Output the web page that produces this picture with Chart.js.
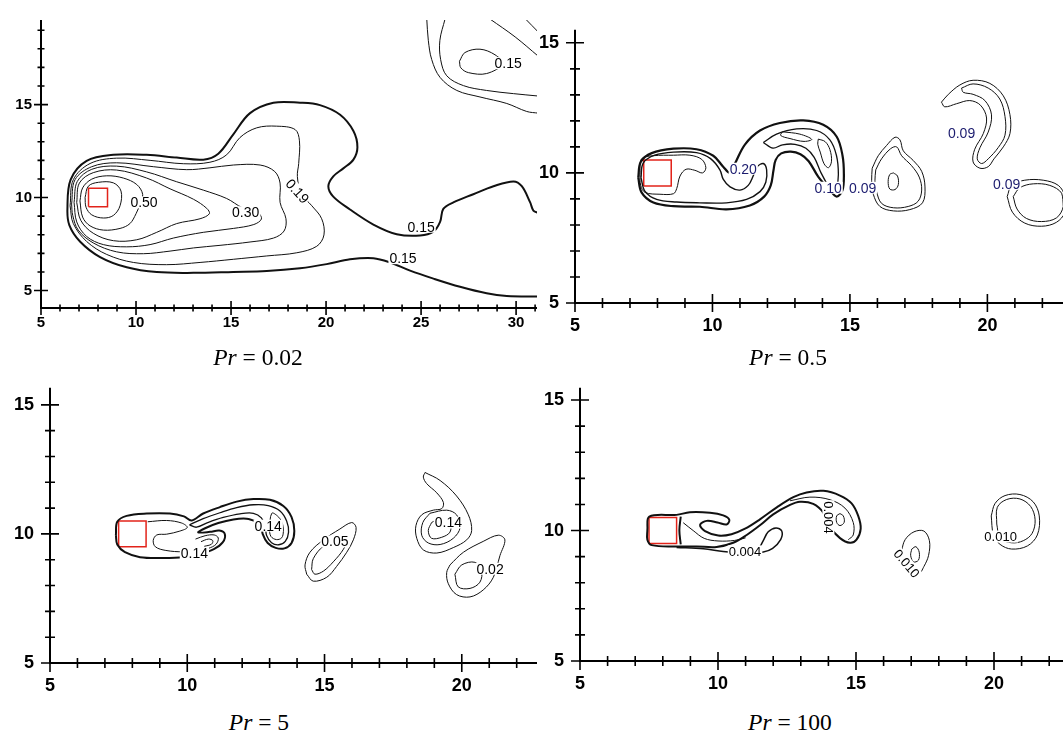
<!DOCTYPE html>
<html>
<head>
<meta charset="utf-8">
<script src="https://cdn.jsdelivr.net/npm/chart.js@4.4.1/dist/chart.umd.min.js"></script>
<style>
html, body { margin: 0; padding: 0; background: #fff; overflow: hidden; width: 1063px; height: 734px; }
canvas { position: absolute; }
.cap { position: absolute; width: 240px; text-align: center; font-family: "Liberation Serif", "Times New Roman", serif; font-size: 23.5px; line-height: 26px; color: #000; }
</style>
</head>
<body>
<canvas id="pr002"></canvas>
<canvas id="pr05"></canvas>
<canvas id="pr5"></canvas>
<canvas id="pr100"></canvas>
<div class="cap" style="left:138px; top:344px;"><i>Pr</i> = 0.02</div>
<div class="cap" style="left:668px; top:344px;"><i>Pr</i> = 0.5</div>
<div class="cap" style="left:139px; top:709px;"><i>Pr</i> = 5</div>
<div class="cap" style="left:670px; top:709px;"><i>Pr</i> = 100</div>
<script>
// ---- tick labels ----
var pr002XTicks = [5, 10, 15, 20, 25, 30];
var pr002YTicks = [5, 10, 15];
var wakeXTicks = [5, 10, 15, 20];
var wakeYTicks = [5, 10, 15];

// cylinder (square) outline
var squareX = [7.5, 8.5, 8.5, 7.5, 7.5];
var squareY = [9.5, 9.5, 10.5, 10.5, 9.5];

// ---- Pr = 0.02 contours [x, y] ----
var pr002Ring1 = [[7.32,10.0],[7.49,10.61],[8.02,10.82],[8.81,10.79],[9.21,10.35],[9.16,9.56],[8.81,9.04],[8.28,8.9],[7.67,9.07],[7.37,9.48],[7.32,10.0]];
var pr002Ring2 = [[7.05,9.82],[7.19,10.52],[7.67,10.99],[8.46,11.17],[9.33,11.05],[10.04,10.7],[10.35,10.17],[10.21,9.65],[10.0,9.13],[9.68,8.6],[9.16,8.34],[8.28,8.25],[7.58,8.48],[7.19,8.95],[7.05,9.82]];
var pr002Ring3 = [[6.88,9.74],[7.02,10.78],[7.75,11.34],[8.98,11.48],[10.56,11.05],[11.79,10.47],[13.02,9.91],[13.72,9.42],[13.86,9.13],[13.37,8.86],[12.14,8.6],[11.09,8.13],[10.04,7.73],[8.81,7.68],[7.75,8.08],[7.09,8.78],[6.88,9.74]];
var pr002Ring4 = [[6.74,9.74],[6.91,10.87],[7.67,11.52],[8.98,11.69],[10.56,11.38],[12.14,10.85],[13.54,10.4],[14.77,9.95],[15.6,9.45],[16.4,9.2],[16.6,8.85],[16.2,8.55],[15.12,8.34],[13.54,8.13],[11.96,7.82],[10.74,7.47],[9.51,7.35],[8.28,7.47],[7.4,7.91],[6.88,8.69],[6.74,9.74]];
var pr002Ring5 = [[6.61,9.65],[6.79,10.96],[7.67,11.66],[8.98,11.87],[10.91,11.66],[12.67,11.5],[13.89,11.6],[15.12,11.75],[16.53,11.75],[17.3,11.4],[17.58,10.78],[17.58,9.74],[17.89,8.86],[17.79,8.2],[17.23,7.82],[16.0,7.61],[14.42,7.43],[13.02,7.29],[11.79,7.12],[10.39,6.98],[8.98,7.08],[7.75,7.56],[6.96,8.25],[6.67,9.04],[6.61,9.65]];
var pr002Ring6 = [[6.53,9.56],[6.7,10.96],[7.58,11.83],[8.98,12.12],[10.74,12.0],[12.49,11.82],[13.89,11.9],[14.77,12.3],[15.47,13.23],[16.35,13.75],[17.4,13.84],[18.37,13.66],[18.6,13.05],[18.56,11.83],[18.49,11.13],[18.7,10.2],[19.25,9.56],[19.77,8.86],[19.89,7.99],[19.51,7.38],[18.46,7.03],[16.88,6.86],[15.12,6.68],[13.37,6.51],[11.61,6.39],[9.86,6.51],[8.46,6.94],[7.4,7.64],[6.7,8.6],[6.53,9.56]];
var pr002Outer = [[31.17,9.18],[30.91,9.3],[30.74,9.74],[30.3,10.61],[29.86,10.87],[28.81,10.61],[27.75,10.18],[26.7,9.74],[26.17,9.39],[26.0,8.69],[25.65,8.17],[24.95,7.96],[23.72,8.03],[22.49,8.55],[21.26,9.36],[20.38,10.05],[20.12,10.61],[20.38,11.14],[20.91,11.57],[21.44,12.04],[21.65,12.71],[21.44,13.58],[20.74,14.45],[19.68,14.97],[18.63,15.1],[17.23,15.1],[16.0,14.54],[15.12,13.4],[14.33,12.36],[13.54,12.04],[12.14,12.15],[10.56,12.3],[8.81,12.3],[7.4,11.97],[6.56,10.96],[6.39,9.39],[6.49,8.52],[7.05,7.64],[8.11,6.8],[9.51,6.25],[11.09,5.99],[13.02,5.95],[15.12,6.0],[16.88,6.05],[18.63,6.2],[20.03,6.42],[21.26,6.68],[22.49,6.74],[23.37,6.51],[24.42,6.07],[25.65,5.64],[27.05,5.2],[28.45,4.85],[29.51,4.71],[31.17,4.68]];
var pr002Eddy = [[27.02,17.33],[27.31,17.8],[28.1,17.98],[28.89,17.68],[29.3,17.2],[28.45,16.67],[27.49,16.72],[27.09,16.98],[27.02,17.33]];
var pr002Arc1 = [[26.26,19.6],[25.99,18.46],[26.03,17.42],[26.35,16.55],[27.23,16.02],[28.45,15.76],[29.86,15.59],[31.17,15.46]];
var pr002Arc2 = [[25.3,19.6],[25.38,18.46],[25.56,17.42],[26.0,16.46],[26.88,15.76],[28.1,15.41],[29.51,15.06],[30.56,14.63],[31.17,14.54]];
var pr002Arc3 = [[28.63,19.6],[29.95,18.64],[31.17,17.6]];
var pr002Arc4 = [[30.5,19.6],[31.17,18.9]];
var pr002LabelText = ['0.50', '0.30', '0.19', '0.15', '0.15', '0.15'];
var pr002LabelX = [10.42, 15.77, 18.49, 25.0, 24.05, 29.58];
var pr002LabelY = [9.74, 9.21, 10.35, 8.43, 6.74, 17.23];

// ---- Pr = 0.5 contours ----
var pr05Outer = [[7.3,9.82],[7.39,10.42],[7.79,10.76],[8.58,10.93],[9.42,10.91],[10.03,10.66],[10.39,10.24],[10.64,10.0],[10.82,10.36],[11.18,11.09],[11.73,11.63],[12.45,11.92],[13.3,12.02],[14.03,11.85],[14.52,11.39],[14.73,10.67],[14.78,9.94],[14.73,9.34],[14.52,9.09],[14.27,9.34],[13.85,9.85],[13.5,10.45],[13.2,10.72],[12.85,10.82],[12.5,10.75],[12.3,10.5],[12.22,10.1],[12.12,9.52],[11.88,9.09],[11.36,8.75],[10.51,8.6],[9.54,8.7],[8.58,8.72],[7.85,8.86],[7.42,9.25],[7.3,9.82]];
var pr05Mid = [[7.4,9.82],[7.48,10.38],[7.9,10.68],[8.58,10.8],[9.42,10.78],[9.93,10.55],[10.27,10.12],[10.39,9.76],[10.64,9.46],[11.0,9.34],[11.3,9.52],[11.48,9.88],[11.63,10.24],[11.85,10.36],[11.97,10.12],[11.94,9.64],[11.73,9.28],[11.24,8.98],[10.51,8.85],[9.54,8.85],[8.7,8.88],[7.97,8.98],[7.54,9.3],[7.4,9.82]];
var pr05Notch = [[7.36,9.94],[7.42,10.54],[7.85,10.66],[8.58,10.68],[9.18,10.68],[9.61,10.52],[9.76,10.2],[9.64,10.0],[9.36,10.1],[9.04,10.14],[8.82,9.88],[8.7,9.4],[8.58,9.2],[8.09,9.18],[7.55,9.25],[7.39,9.52],[7.36,9.94]];
var pr05Arm = [[11.85,11.17],[12.33,11.49],[13.06,11.69],[13.79,11.63],[14.27,11.27],[14.51,10.67],[14.58,9.94],[14.51,9.4],[14.39,9.24],[14.25,9.43],[13.95,10.0],[13.7,10.6],[13.4,10.95],[13.0,11.1],[12.55,11.08],[12.2,10.95],[11.85,11.17]];
var pr05Tongue = [[12.55,11.58],[13.18,11.49],[13.61,11.29],[13.33,11.21],[12.82,11.32],[12.48,11.44],[12.55,11.58]];
var pr05Hook = [[13.85,11.3],[14.1,11.2],[14.27,10.9],[14.33,10.45],[14.22,10.2],[14.06,10.35],[13.92,10.8],[13.83,11.1],[13.85,11.3]];
var pr05Blob1Out = [[15.81,10.18],[16.03,10.66],[16.33,11.05],[16.64,11.37],[16.82,11.27],[16.94,10.85],[17.3,10.48],[17.61,10.06],[17.73,9.46],[17.64,8.85],[17.18,8.59],[16.58,8.54],[16.09,8.71],[15.85,9.18],[15.79,9.7],[15.81,10.18]];
var pr05Blob1In = [[15.94,10.12],[16.15,10.54],[16.48,10.93],[16.7,11.0],[16.88,10.66],[17.24,10.28],[17.52,9.84],[17.61,9.34],[17.48,8.91],[17.12,8.71],[16.58,8.66],[16.15,8.83],[15.97,9.28],[15.91,9.7],[15.94,10.12]];
var pr05Blob1Core = [[16.58,10.0],[16.73,9.88],[16.76,9.55],[16.64,9.36],[16.45,9.38],[16.39,9.67],[16.45,9.94],[16.58,10.0]];
var pr05Blob2Out = [[18.33,12.72],[18.58,13.02],[19.0,13.38],[19.48,13.56],[20.09,13.44],[20.58,12.96],[20.82,12.24],[20.82,11.51],[20.58,11.0],[20.24,10.54],[20.03,10.24],[19.73,10.18],[19.48,10.42],[19.54,10.91],[19.85,11.51],[19.97,12.11],[19.75,12.6],[19.36,12.78],[18.88,12.66],[18.45,12.54],[18.33,12.72]];
var pr05Blob2In = [[19.06,13.26],[19.48,13.42],[20.03,13.26],[20.45,12.84],[20.64,12.17],[20.64,11.45],[20.39,10.97],[20.03,10.54],[19.79,10.36],[19.63,10.54],[19.73,10.97],[20.03,11.57],[20.15,12.23],[19.91,12.78],[19.48,13.02],[19.12,13.1],[19.06,13.26]];
var pr05Blob3Out = [[20.72,9.09],[20.88,9.52],[21.36,9.72],[22.03,9.72],[22.58,9.52],[22.82,9.09],[22.82,8.49],[22.51,8.1],[21.97,7.95],[21.36,8.07],[20.91,8.49],[20.72,9.09]];
var pr05Blob3In = [[20.94,9.09],[21.18,9.43],[21.67,9.58],[22.27,9.52],[22.7,9.22],[22.76,8.71],[22.51,8.27],[21.97,8.13],[21.42,8.25],[21.08,8.61],[20.94,9.09]];
var pr05LabelText = ['0.20', '0.10', '0.09', '0.09', '0.09'];
var pr05LabelX = [11.12, 14.21, 15.46, 19.06, 20.7];
var pr05LabelY = [10.16, 9.43, 9.43, 11.51, 9.58];

// ---- Pr = 5 contours ----
var pr5Outer = [[7.4,9.95],[7.45,10.47],[7.79,10.7],[8.52,10.79],[9.37,10.79],[9.88,10.68],[10.16,10.52],[10.58,10.79],[11.19,11.04],[11.8,11.25],[12.41,11.35],[13.01,11.32],[13.5,11.08],[13.8,10.65],[13.9,10.11],[13.8,9.65],[13.54,9.44],[13.22,9.46],[12.93,9.65],[12.75,9.99],[12.69,10.35],[12.53,10.47],[12.16,10.59],[11.68,10.56],[11.13,10.42],[10.65,10.22],[10.4,10.06],[10.83,10.08],[11.17,10.13],[11.37,9.99],[11.29,9.67],[10.97,9.41],[10.46,9.22],[9.86,9.1],[9.13,9.07],[8.28,9.1],[7.73,9.29],[7.45,9.59],[7.4,9.95]];
var pr5Tail = [[10.08,10.35],[10.58,10.59],[11.19,10.82],[11.8,11.02],[12.41,11.13],[12.95,11.1],[13.38,10.89],[13.62,10.5],[13.69,10.07],[13.57,9.71],[13.33,9.58],[13.07,9.66],[12.89,9.94],[12.84,10.28],[12.7,10.62],[12.41,10.8],[11.92,10.78],[11.31,10.64],[10.77,10.45],[10.34,10.26],[10.08,10.35]];
var pr5Hook = [[12.98,10.2],[13.05,9.9],[13.25,9.78],[13.44,9.85],[13.5,10.1],[13.45,10.45],[13.28,10.7],[13.08,10.8],[12.98,10.2]];
var pr5Body = [[8.56,10.47],[9.25,10.52],[9.8,10.42],[10.0,10.25],[9.73,10.11],[9.25,9.99],[8.89,9.96],[8.76,9.75],[8.84,9.5],[9.22,9.36],[9.86,9.31],[10.34,9.38]];
var pr5Lobe1 = [[10.3,9.8],[10.65,9.93],[10.98,9.96],[11.13,9.84],[11.05,9.6],[10.77,9.44],[10.42,9.37]];
var pr5Lobe2 = [[10.5,9.7],[10.77,9.8],[10.93,9.74],[10.88,9.6],[10.62,9.52]];
var pr5Blob1Out = [[14.35,8.44],[14.29,8.8],[14.47,9.29],[14.96,9.77],[15.56,10.19],[15.99,10.44],[16.15,10.25],[16.05,9.77],[15.81,9.29],[15.44,8.74],[15.08,8.32],[14.59,8.17],[14.35,8.44]];
var pr5Blob1In = [[14.53,8.62],[14.59,9.04],[14.96,9.53],[15.5,9.83],[15.81,9.79],[15.69,9.41],[15.32,8.92],[14.96,8.56],[14.65,8.44],[14.53,8.62]];
var pr5Blob2Out = [[18.66,12.38],[19.21,12.07],[19.81,11.47],[20.24,10.74],[20.36,10.13],[20.18,9.77],[19.69,9.47],[19.09,9.26],[18.6,9.38],[18.36,9.83],[18.33,10.32],[18.54,10.74],[18.96,10.92],[19.27,10.98],[19.33,11.22],[19.09,11.59],[18.72,11.95],[18.6,12.2],[18.66,12.38]];
var pr5Blob2Mid = [[18.84,10.8],[19.45,10.92],[19.81,10.74],[19.94,10.25],[19.69,9.83],[19.21,9.59],[18.78,9.65],[18.54,9.95],[18.58,10.44],[18.84,10.8]];
var pr5Blob2In = [[18.9,10.44],[19.21,10.6],[19.57,10.44],[19.57,10.07],[19.27,9.87],[18.9,9.83],[18.78,10.13],[18.9,10.44]];
var pr5Blob3Out = [[19.57,8.8],[20.06,9.29],[20.78,9.71],[21.33,9.95],[21.57,9.77],[21.39,9.16],[21.15,8.32],[20.78,7.83],[20.3,7.56],[19.81,7.65],[19.51,8.07],[19.45,8.5],[19.57,8.8]];
var pr5Blob3In = [[19.75,8.44],[20.0,8.8],[20.48,8.9],[20.72,8.58],[20.66,8.13],[20.3,7.89],[19.87,7.95],[19.75,8.44]];
var pr5LabelText = ['0.14', '0.14', '0.05', '0.14', '0.02'];
var pr5LabelX = [12.95, 10.26, 15.38, 19.51, 21.03];
var pr5LabelY = [10.32, 9.26, 9.71, 10.44, 8.65];

// ---- Pr = 100 contours ----
var pr100Outer = [[7.44,10.01],[7.51,10.53],[8.5,10.6],[8.98,10.7],[9.71,10.68],[10.19,10.58],[10.41,10.41],[10.31,10.23],[9.98,10.31],[9.59,10.37],[9.35,10.22],[9.53,9.98],[10.01,9.81],[10.49,9.86],[10.98,10.07],[11.52,10.43],[12.13,10.89],[12.73,11.28],[13.21,11.46],[13.82,11.52],[14.42,11.34],[14.84,11.04],[15.08,10.56],[15.17,10.07],[15.02,9.65],[14.78,9.53],[14.42,9.71],[14.06,10.13],[13.82,10.68],[13.45,11.02],[12.97,11.1],[12.61,10.98],[12.0,10.62],[11.52,10.2],[11.04,9.83],[10.55,9.53],[9.95,9.37],[9.23,9.39],[8.5,9.39],[7.6,9.44],[7.44,9.65],[7.44,10.01]];
var pr100Bottom = [[8.5,9.35],[9.47,9.3],[10.19,9.2],[10.92,9.14],[11.64,9.18],[11.98,9.32],[12.27,9.65],[12.31,9.98],[12.1,10.1],[11.82,9.95],[11.64,9.61],[11.52,9.37]];
var pr100Wall = [[8.65,10.53],[8.6,10.01],[8.65,9.47]];
var pr100Inner = [[8.74,10.3],[9.1,10.0],[9.5,9.7],[10.0,9.6],[10.6,9.62],[11.0,9.72]];
var pr100Tail = [[12.61,11.14],[13.33,11.28],[14.06,11.18],[14.6,10.86],[14.9,10.31],[14.9,9.83],[14.72,9.65]];
var pr100Eye = [[14.42,10.65],[14.54,10.56],[14.57,10.31],[14.42,10.19],[14.3,10.31],[14.3,10.56],[14.42,10.65]];
var pr100Blob1Out = [[16.65,9.23],[16.78,9.65],[17.1,9.95],[17.46,9.98],[17.66,9.61],[17.63,9.05],[17.46,8.62],[17.26,8.32],[16.96,8.53],[16.72,8.86],[16.65,9.23]];
var pr100Blob1In = [[17.02,9.29],[17.17,9.38],[17.29,9.17],[17.26,8.86],[17.08,8.8],[16.98,9.05],[17.02,9.29]];
var pr100Blob2Out = [[19.9,10.56],[20.04,11.04],[20.4,11.34],[20.94,11.38],[21.42,11.1],[21.64,10.56],[21.57,9.83],[21.21,9.41],[20.64,9.29],[20.22,9.47],[19.98,9.83],[19.9,10.56]];
var pr100Blob2In = [[20.1,10.25],[20.12,10.89],[20.46,11.19],[20.94,11.21],[21.33,10.92],[21.49,10.41],[21.38,9.89],[21.06,9.61],[20.64,9.53],[20.22,9.71],[20.1,10.25]];
var pr100LabelText = ['0.004', '0.004', '0.010', '0.010'];
var pr100LabelX = [10.98, 14.0, 16.84, 20.24];
var pr100LabelY = [9.2, 10.5, 8.74, 9.77];

Chart.defaults.font.family = '"Liberation Sans", Arial, sans-serif';

// contour line as a scatter dataset
function contour(pts, width) {
   return {
      data: pts.map(function (p) { return { x: p[0], y: p[1] }; }),
      showLine: true,
      borderColor: "#111",
      borderWidth: width || 1,
      pointRadius: 0,
      tension: 0.35,
      fill: false,
   };
}

function square() {
   var pts = squareX.map(function (x, i) { return { x: x, y: squareY[i] }; });
   return { data: pts, showLine: true, borderColor: "#e2231a", borderWidth: 1.5, pointRadius: 0, tension: 0, fill: false };
}

// crossing axis ticks like the Tecplot frame
var axesPlugin = {
   id: "axes",
   afterDraw: function (chart, args, o) {
      var ctx = chart.ctx, a = chart.chartArea, xs = chart.scales.x, ys = chart.scales.y;
      ctx.save();
      ctx.strokeStyle = "#000";
      ctx.lineWidth = 2;
      ctx.beginPath();
      ctx.moveTo(a.left, a.top);
      ctx.lineTo(a.left, a.bottom);
      ctx.lineTo(a.right, a.bottom);
      ctx.stroke();
      ctx.lineWidth = 1.6;
      ctx.beginPath();
      for (var v = Math.ceil(xs.min); v <= xs.max; v++) {
         var px = xs.getPixelForValue(v);
         var len = o.xMajor.indexOf(v) >= 0 ? o.major : o.minor;
         ctx.moveTo(px, a.bottom - len);
         ctx.lineTo(px, a.bottom + len);
      }
      for (var w = Math.ceil(ys.min); w <= ys.max; w++) {
         var py = ys.getPixelForValue(w);
         var len2 = o.yMajor.indexOf(w) >= 0 ? o.major : o.minor;
         ctx.moveTo(a.left - len2, py);
         ctx.lineTo(a.left + len2, py);
      }
      ctx.stroke();
      ctx.restore();
   },
};

// contour level labels, breaking the line under them
var labelPlugin = {
   id: "contourLabels",
   afterDatasetsDraw: function (chart, args, o) {
      var ctx = chart.ctx, xs = chart.scales.x, ys = chart.scales.y;
      ctx.save();
      ctx.font = o.font;
      ctx.textAlign = "center";
      ctx.textBaseline = "middle";
      o.text.forEach(function (t, i) {
         var px = xs.getPixelForValue(o.x[i]), py = ys.getPixelForValue(o.y[i]);
         var w = ctx.measureText(t).width;
         ctx.save();
         ctx.translate(px, py);
         ctx.rotate(((o.rot[i] || 0) * Math.PI) / 180);
         ctx.fillStyle = "#fff";
         ctx.fillRect(-w / 2 - 1, -o.h / 2, w + 2, o.h);
         ctx.fillStyle = o.color;
         ctx.fillText(t, 0, 1);
         ctx.restore();
      });
      ctx.restore();
   },
};

function makePanel(id, area, p) {
   var canvas = document.getElementById(id);
   canvas.width = area.right - area.left + 70;
   canvas.height = area.bottom - area.top + 50;
   canvas.style.left = area.left - 60 + "px";
   canvas.style.top = area.top - 10 + "px";
   var datasets = p.lines.map(function (l) { return contour(l[0], l[1]); });
   datasets.push(square());
   return new Chart(canvas.getContext("2d"), {
      type: "scatter",
      data: { datasets: datasets },
      options: {
         responsive: false,
         animation: false,
         events: [],
         layout: { padding: { top: 10, right: 10, left: 0, bottom: 0 }, autoPadding: false },
         plugins: {
            legend: { display: false },
            tooltip: { enabled: false },
            axes: { xMajor: p.xTicks, yMajor: p.yTicks, major: p.major, minor: p.minor },
            contourLabels: { text: p.labelText, x: p.labelX, y: p.labelY, rot: p.labelRot, font: p.labelFont, color: p.labelColor, h: 12 },
         },
         scales: {
            x: {
               type: "linear",
               min: p.xMin,
               max: p.xMax,
               grid: { display: false, drawTicks: false },
               border: { display: false },
               ticks: { color: "#000", font: { size: p.tickSize, weight: "bold" }, padding: p.xPad, maxRotation: 0, autoSkip: false },
               afterBuildTicks: function (s) { s.ticks = p.xTicks.map(function (v) { return { value: v }; }); },
               afterFit: function (s) { s.height = 40; },
            },
            y: {
               type: "linear",
               min: p.yMin,
               max: p.yMax,
               grid: { display: false, drawTicks: false },
               border: { display: false },
               ticks: { color: "#000", font: { size: p.tickSize, weight: "bold" }, padding: p.yPad, autoSkip: false },
               afterBuildTicks: function (s) { s.ticks = p.yTicks.map(function (v) { return { value: v }; }); },
               afterFit: function (s) { s.width = 60; },
            },
         },
      },
      plugins: [axesPlugin, labelPlugin],
   });
}

makePanel("pr002", { left: 41, top: 12, right: 537, bottom: 308 }, {
   xMin: 5, xMax: 31.1, yMin: 4.06, yMax: 19.55,
   xTicks: pr002XTicks, yTicks: pr002YTicks,
   tickSize: 15, xPad: 6, yPad: 9, major: 7, minor: 3.5,
   lines: [[pr002Ring1, 1], [pr002Ring2, 1], [pr002Ring3, 1], [pr002Ring4, 1], [pr002Ring5, 1], [pr002Ring6, 1], [pr002Outer, 2],
      [pr002Eddy, 1], [pr002Arc1, 1], [pr002Arc2, 1], [pr002Arc3, 1], [pr002Arc4, 1]],
   labelText: pr002LabelText, labelX: pr002LabelX, labelY: pr002LabelY, labelRot: [0, 0, 48, 0, 0, 0],
   labelFont: "14px 'Liberation Sans', Arial, sans-serif", labelColor: "#000",
});

makePanel("pr05", { left: 575, top: 13, right: 1063, bottom: 303 }, {
   xMin: 5, xMax: 22.75, yMin: 5, yMax: 15.5,
   xTicks: wakeXTicks, yTicks: wakeYTicks,
   tickSize: 18, xPad: 12, yPad: 16, major: 9, minor: 5,
   lines: [[pr05Outer, 2.2], [pr05Mid, 1.4], [pr05Notch, 1], [pr05Arm, 1.3], [pr05Tongue, 1], [pr05Hook, 1],
      [pr05Blob1Out, 1], [pr05Blob1In, 1], [pr05Blob1Core, 1], [pr05Blob2Out, 1], [pr05Blob2In, 1], [pr05Blob3Out, 1], [pr05Blob3In, 1]],
   labelText: pr05LabelText, labelX: pr05LabelX, labelY: pr05LabelY, labelRot: [0, 0, 0, 0, 0],
   labelFont: "14px 'Liberation Sans', Arial, sans-serif", labelColor: "#1b1b6e",
});

makePanel("pr5", { left: 50, top: 371, right: 537, bottom: 663 }, {
   xMin: 5, xMax: 22.74, yMin: 5, yMax: 15.66,
   xTicks: wakeXTicks, yTicks: wakeYTicks,
   tickSize: 18, xPad: 12, yPad: 16, major: 9, minor: 5,
   lines: [[pr5Outer, 2], [pr5Tail, 1.3], [pr5Hook, 1], [pr5Body, 1], [pr5Lobe1, 1], [pr5Lobe2, 1],
      [pr5Blob1Out, 1], [pr5Blob1In, 1], [pr5Blob2Out, 1], [pr5Blob2Mid, 1], [pr5Blob2In, 1], [pr5Blob3Out, 1], [pr5Blob3In, 1]],
   labelText: pr5LabelText, labelX: pr5LabelX, labelY: pr5LabelY, labelRot: [0, 0, 0, 0, 0],
   labelFont: "14px 'Liberation Sans', Arial, sans-serif", labelColor: "#000",
});

makePanel("pr100", { left: 580, top: 371, right: 1063, bottom: 661 }, {
   xMin: 5, xMax: 22.5, yMin: 5, yMax: 15.47,
   xTicks: wakeXTicks, yTicks: wakeYTicks,
   tickSize: 18, xPad: 12, yPad: 16, major: 9, minor: 5,
   lines: [[pr100Outer, 2], [pr100Bottom, 1.5], [pr100Wall, 2], [pr100Inner, 1], [pr100Tail, 1], [pr100Eye, 1],
      [pr100Blob1Out, 1], [pr100Blob1In, 1], [pr100Blob2Out, 1], [pr100Blob2In, 1]],
   labelText: pr100LabelText, labelX: pr100LabelX, labelY: pr100LabelY, labelRot: [0, 90, 50, 0],
   labelFont: "13px 'Liberation Sans', Arial, sans-serif", labelColor: "#000",
});
</script>
</body>
</html>
